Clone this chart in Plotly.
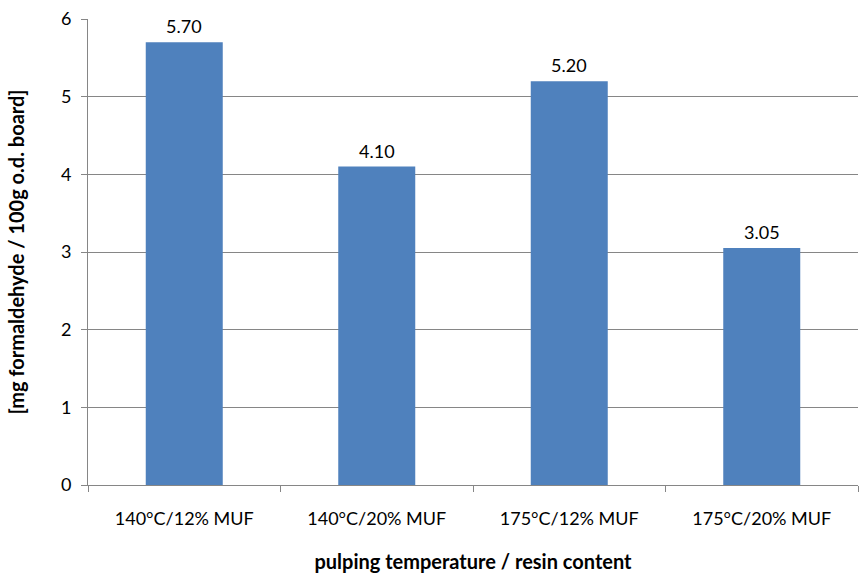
import plotly.graph_objects as go

categories = ["140°C/12% MUF", "140°C/20% MUF", "175°C/12% MUF", "175°C/20% MUF"]
formaldehyde = [5.70, 4.10, 5.20, 3.05]
y_ticks = [0, 1, 2, 3, 4, 5, 6]

font_family = "Lato, 'Open Sans', sans-serif"

fig = go.Figure(
    go.Bar(
        x=categories,
        y=formaldehyde,
        marker=dict(color="#4F81BD", line=dict(width=0)),
        width=0.4,
        cliponaxis=False,
    )
)

# value labels above each bar
for cat, val in zip(categories, formaldehyde):
    fig.add_annotation(
        x=cat, y=val, text=f"{val:.2f}", showarrow=False,
        yanchor="bottom", yshift=3,
        font=dict(size=18, color="#000000", family=font_family),
    )

fig.update_layout(
    width=860,
    height=573,
    margin=dict(l=88, r=2, t=19, b=88),
    paper_bgcolor="white",
    plot_bgcolor="white",
    showlegend=False,
    font=dict(family=font_family, size=18, color="#000000"),
)

fig.update_xaxes(
    type="category",
    tickson="boundaries",
    ticks="outside",
    ticklen=6,
    tickcolor="#868686",
    showline=True,
    linecolor="#868686",
    linewidth=1,
    showgrid=False,
    tickfont=dict(size=18),
    ticklabelstandoff=17,
    title=dict(text="<b>pulping temperature / resin content</b>", font=dict(size=20), standoff=27),
)

fig.update_yaxes(
    range=[0, 6],
    tickvals=y_ticks,
    ticks="outside",
    ticklen=6,
    tickcolor="#868686",
    showline=True,
    linecolor="#868686",
    linewidth=1,
    showgrid=True,
    gridcolor="#868686",
    gridwidth=1,
    zeroline=False,
    tickfont=dict(size=18),
    ticklabelstandoff=6,
    title=dict(text="<b>[mg formaldehyde / 100g o.d. board]</b>", font=dict(size=20), standoff=30),
)

fig.write_html("out.html")
